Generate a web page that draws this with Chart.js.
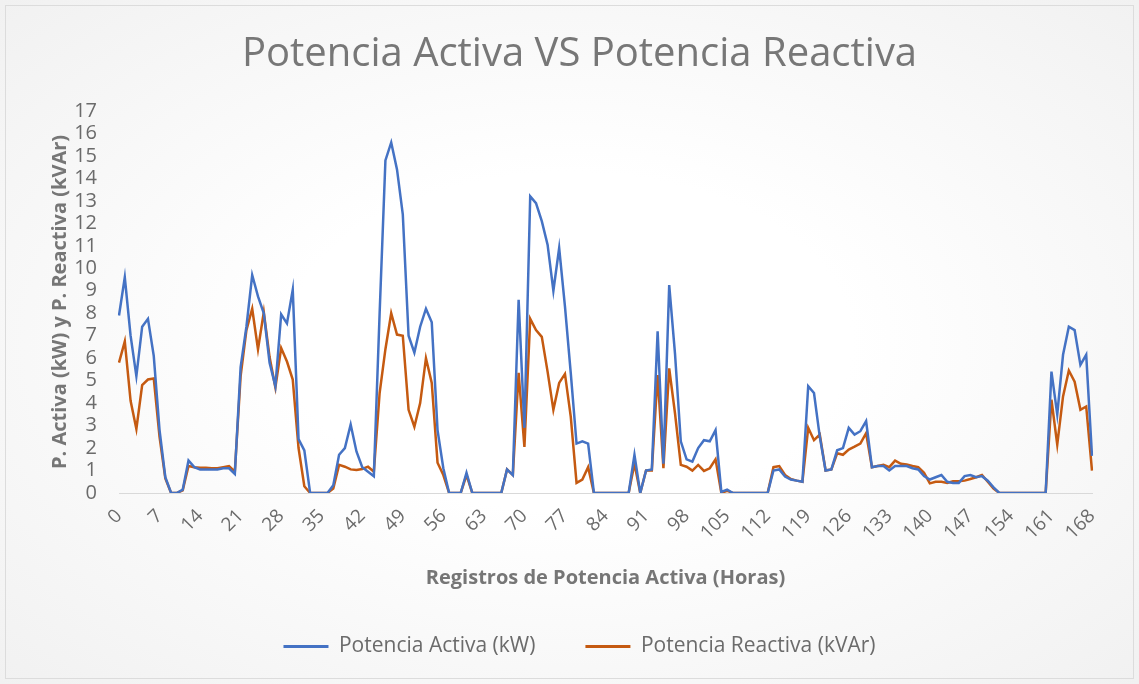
<!DOCTYPE html>
<html lang="es">
<head>
    <meta charset="UTF-8">
    <title>Potencia Activa VS Potencia Reactiva</title>
    <script src="https://cdn.jsdelivr.net/npm/chart.js@4.4.1/dist/chart.umd.min.js"></script>
    <style>
        body { margin: 0; background: #ffffff; }
        #wrap { position: relative; width: 1139px; height: 684px; }
        #myChart { display: block; background: radial-gradient(ellipse at center, #ffffff 35%, #f1f1f1 100%); }
        #frame { position: absolute; left: 5px; top: 5px; right: 5px; bottom: 5px; border: 1px solid #dcdcdc; pointer-events: none; }
    </style>
</head>
<body>
<div id="wrap">
    <canvas id="myChart" width="1139" height="684"></canvas>
    <div id="frame"></div>
</div>

<script>
// horas 0..168
const horas = Array.from({ length: 169 }, (_, i) => i);
// etiquetas que se muestran en el eje x
const xTicks = [0, 7, 14, 21, 28, 35, 42, 49, 56, 63, 70, 77, 84, 91, 98, 105, 112, 119, 126, 133, 140, 147, 154, 161, 168];

// Potencia Activa (kW)
const activa = [
    7.9, 9.6, 7.0, 5.2, 7.4, 7.75, 6.1, 2.8, 0.7, 0, 0, 0.15, 1.45, 1.15,
    1.05, 1.05, 1.05, 1.05, 1.1, 1.1, 0.85, 5.6, 7.4, 9.7, 8.75, 8.0, 5.8, 4.75,
    7.95, 7.55, 9.05, 2.4, 1.9, 0, 0, 0, 0, 0.35, 1.7, 2.0, 3.05, 1.85,
    1.15, 0.95, 0.75, 8.0, 14.8, 15.6, 14.4, 12.4, 7.0, 6.25, 7.4, 8.2, 7.6, 2.8,
    1.1, 0, 0, 0, 0.9, 0, 0, 0, 0, 0, 0, 1.05, 0.8, 8.6,
    2.9, 13.2, 12.9, 12.1, 11.05, 9.0, 10.9, 8.3, 5.35, 2.2, 2.3, 2.2, 0, 0,
    0, 0, 0, 0, 0, 1.7, 0, 1.0, 1.05, 7.2, 1.3, 9.25, 6.2, 2.3,
    1.5, 1.4, 2.0, 2.35, 2.3, 2.8, 0.05, 0.15, 0, 0, 0, 0, 0, 0,
    0, 1.0, 1.05, 0.73, 0.6, 0.55, 0.5, 4.75, 4.45, 2.5, 1.0, 1.05, 1.9, 2.0,
    2.9, 2.6, 2.75, 3.2, 1.15, 1.2, 1.2, 1.0, 1.2, 1.2, 1.2, 1.1, 1.05, 0.75,
    0.6, 0.7, 0.8, 0.5, 0.45, 0.45, 0.75, 0.8, 0.7, 0.75, 0.55, 0.25, 0, 0,
    0, 0, 0, 0, 0, 0, 0, 5.4, 3.5, 6.15, 7.4, 7.25, 5.7, 6.15,
    1.65
];

// Potencia Reactiva (kVAr)
const reactiva = [
    5.8, 6.75, 4.1, 2.85, 4.8, 5.05, 5.1, 2.5, 0.65, 0, 0, 0.12, 1.2, 1.15,
    1.12, 1.12, 1.1, 1.1, 1.15, 1.2, 0.95, 5.2, 7.25, 8.2, 6.4, 8.05, 6.05, 4.7,
    6.45, 5.85, 5.05, 2.0, 0.3, 0, 0, 0, 0, 0.2, 1.25, 1.17, 1.05, 1.02,
    1.07, 1.17, 0.95, 4.45, 6.4, 8.0, 7.05, 7.0, 3.7, 2.95, 4.0, 6.0, 4.9, 1.35,
    0.8, 0, 0, 0, 0.8, 0, 0, 0, 0, 0, 0, 1.05, 0.8, 5.35,
    2.05, 7.75, 7.25, 6.95, 5.4, 3.7, 4.9, 5.3, 3.4, 0.45, 0.6, 1.15, 0, 0,
    0, 0, 0, 0, 0, 1.3, 0, 1.0, 1.0, 5.25, 1.1, 5.55, 3.55, 1.25,
    1.17, 1.0, 1.25, 0.98, 1.1, 1.5, 0, 0.1, 0, 0, 0, 0, 0, 0,
    0, 1.15, 1.2, 0.8, 0.62, 0.55, 0.5, 2.9, 2.35, 2.6, 1.0, 1.05, 1.77, 1.7,
    1.93, 2.06, 2.2, 2.66, 1.15, 1.2, 1.25, 1.15, 1.44, 1.3, 1.27, 1.2, 1.15, 0.9,
    0.43, 0.5, 0.5, 0.45, 0.52, 0.52, 0.55, 0.62, 0.7, 0.8, 0.5, 0.2, 0, 0,
    0, 0, 0, 0, 0, 0, 0, 4.15, 2.15, 4.3, 5.45, 4.95, 3.7, 3.85,
    1.0
];

Chart.defaults.font.family = "'Open Sans', sans-serif";
Chart.defaults.color = '#6b6b6b';

const ctx = document.getElementById('myChart').getContext('2d');
const myChart = new Chart(ctx, {
    type: 'line',
    data: {
        labels: horas,
        datasets: [{
            label: 'Potencia Activa (kW)',
            data: activa,
            borderColor: '#4472C4',
            backgroundColor: '#4472C4',
            borderWidth: 2.5,
            pointRadius: 0,
            tension: 0,
            fill: false
        }, {
            label: 'Potencia Reactiva (kVAr)',
            data: reactiva,
            borderColor: '#C55A11',
            backgroundColor: '#C55A11',
            borderWidth: 2.5,
            pointRadius: 0,
            tension: 0,
            fill: false
        }]
    },
    options: {
        responsive: false,
        animation: false,
        devicePixelRatio: 1,
        layout: { padding: { top: 10, left: 20, right: 0, bottom: 18 } },
        plugins: {
            title: {
                display: true,
                text: 'Potencia Activa VS Potencia Reactiva',
                color: '#777777',
                font: { size: 40, weight: 'normal' },
                padding: { top: 21, bottom: 32 }
            },
            legend: {
                position: 'bottom',
                maxHeight: 80,
                labels: {
                    boxWidth: 45,
                    boxHeight: 3,
                    padding: 50,
                    color: '#6b6b6b',
                    font: { size: 21 },
                    generateLabels: function (chart) {
                        const items = Chart.defaults.plugins.legend.labels.generateLabels(chart);
                        items.forEach(function (it) { it.lineWidth = 0; });
                        return items;
                    }
                }
            },
            tooltip: { enabled: false }
        },
        scales: {
            x: {
                grid: { display: false, drawTicks: false },
                border: { display: true, color: '#d9d9d9', width: 1 },
                ticks: {
                    autoSkip: false,
                    minRotation: 45,
                    maxRotation: 45,
                    padding: 12,
                    color: '#6b6b6b',
                    font: { size: 19 },
                    callback: function (val) {
                        const h = horas[val];
                        return xTicks.includes(h) ? String(h) : '';
                    }
                },
                title: {
                    display: true,
                    text: 'Registros de Potencia Activa (Horas)',
                    color: '#767676',
                    font: { size: 20, weight: 'bold', lineHeight: 0.8 },
                    padding: 0
                },
                afterFit: function (scale) { scale.height = 93; }
            },
            y: {
                min: 0,
                max: 17,
                grid: { display: false, drawTicks: false },
                border: { display: false },
                ticks: {
                    stepSize: 1,
                    autoSkip: false,
                    padding: 22,
                    color: '#6b6b6b',
                    font: { size: 20 }
                },
                title: {
                    display: true,
                    text: 'P. Activa (kW) y P. Reactiva (kVAr)',
                    color: '#767676',
                    font: { size: 20, weight: 'bold' },
                    padding: { top: 28, bottom: 0 }
                },
                afterFit: function (scale) { scale.width = 99; }
            },
            // eje vacio a la derecha, solo para dejar el margen
            y2: {
                position: 'right',
                grid: { display: false },
                border: { display: false },
                ticks: { display: false },
                afterFit: function (scale) { scale.width = 47; }
            }
        }
    }
});
</script>
</body>
</html>
